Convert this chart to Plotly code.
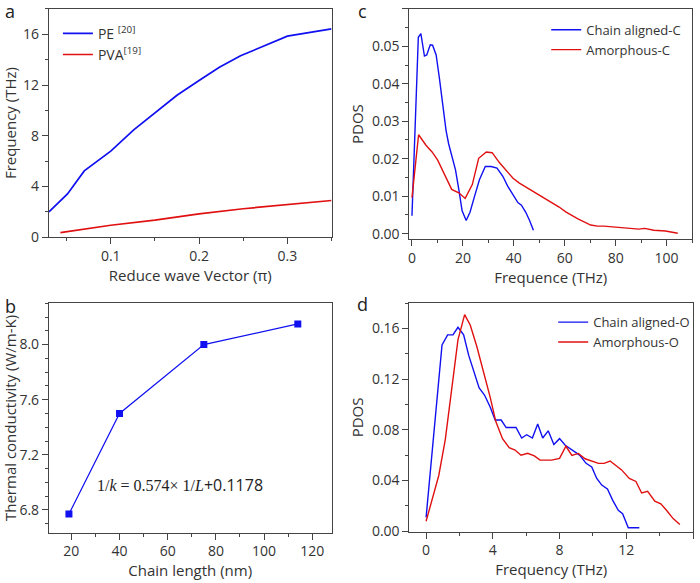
import plotly.graph_objects as go

# ---- Panel a: dispersion ----
pe_q = [0.030, 0.051, 0.070, 0.100, 0.126, 0.149, 0.175, 0.200, 0.223, 0.247, 0.274, 0.300, 0.350]
pe_f = [2.0, 3.42, 5.23, 6.79, 8.47, 9.77, 11.19, 12.36, 13.4, 14.3, 15.08, 15.85, 16.42]
pva_q = [0.043, 0.10, 0.15, 0.20, 0.25, 0.30, 0.35]
pva_f = [0.36, 0.95, 1.35, 1.85, 2.25, 2.6, 2.9]

# ---- Panel b: thermal conductivity vs chain length ----
chain_len = [19, 40, 75, 114]
kappa = [6.77, 7.5, 8.0, 8.15]

# ---- Panel c: carbon PDOS ----
c_al_x = [0, 1.2, 2.5, 3.5, 4.9, 5.8, 7.2, 8.1, 9.5, 10.8, 12.1, 13.4, 14.4, 15.7, 17.1, 18.4, 19.7,
          21.3, 22.8, 24.6, 26.5, 28.8, 31.1, 33.4, 35.7, 37.6, 39.7, 41.6, 43.0, 44.7, 46.2, 47.7]
c_al_y = [0.0048, 0.0284, 0.0524, 0.0534, 0.0474, 0.0477, 0.0504, 0.0503, 0.0477, 0.0414, 0.0345, 0.0275,
          0.024, 0.0209, 0.017, 0.0118, 0.0061, 0.0035, 0.0057, 0.010, 0.0144, 0.0179, 0.0179, 0.0175,
          0.0153, 0.0127, 0.0105, 0.0083, 0.0076, 0.0057, 0.0035, 0.0009]
c_am_x = [0, 2.6, 5.5, 7.9, 10.1, 13.2, 15.6, 18.4, 20.9, 23.7, 26.2, 29.2, 31.5, 34.4, 37.0, 39.7,
          42.2, 44.7, 48.1, 50.6, 54.5, 57.8, 60.4, 65.0, 70.2, 72.8, 75.4, 78.7, 81.3, 85.2, 89.1,
          91.4, 95.0, 99.6, 104.4]
c_am_y = [0.0096, 0.0264, 0.0236, 0.0218, 0.0196, 0.0153, 0.0118, 0.0109, 0.0094, 0.0131, 0.0201,
          0.0218, 0.0216, 0.0189, 0.0168, 0.0148, 0.0135, 0.0125, 0.0111, 0.0100, 0.0085, 0.0071,
          0.0058, 0.0040, 0.0023, 0.0020, 0.0020, 0.0018, 0.0018, 0.0015, 0.0012, 0.0014, 0.0009,
          0.0007, 0.0001]

# ---- Panel d: oxygen PDOS ----
d_al_x = [0, 0.955, 1.29, 1.61, 1.91, 2.25, 2.55, 2.89, 3.18, 3.5, 3.84, 4.14, 4.5, 4.8, 5.39, 5.73,
          6.03, 6.37, 6.69, 6.99, 7.32, 7.66, 8.0, 8.34, 8.74, 9.2, 9.59, 9.93, 10.23, 10.53, 10.87,
          11.19, 11.52, 11.78, 12.12, 12.78]
d_al_y = [0.0108, 0.147, 0.155, 0.155, 0.161, 0.155, 0.139, 0.125, 0.113, 0.1075, 0.098, 0.0877,
          0.0877, 0.0818, 0.0818, 0.0735, 0.0761, 0.0735, 0.0846, 0.0735, 0.0792, 0.0684, 0.073,
          0.0678, 0.0644, 0.060, 0.0535, 0.0507, 0.0415, 0.0363, 0.0332, 0.0242, 0.0164, 0.0137,
          0.0026, 0.0026]
d_am_x = [0, 0.4, 0.76, 1.15, 1.55, 1.91, 2.31, 2.65, 3.04, 3.44, 3.84, 4.18, 4.58, 4.98, 5.33, 5.69,
          6.09, 6.49, 6.83, 7.52, 8.0, 8.38, 8.74, 9.13, 9.53, 10.33, 10.67, 11.03, 11.72, 12.18,
          12.58, 12.92, 13.28, 13.71, 14.07, 14.41, 14.81, 15.21]
d_am_y = [0.0077, 0.0258, 0.0439, 0.0723, 0.112, 0.151, 0.171, 0.1626, 0.1458, 0.1265, 0.1058,
          0.0865, 0.073, 0.0658, 0.064, 0.0599, 0.0614, 0.0594, 0.056, 0.056, 0.0574, 0.067, 0.0597,
          0.0613, 0.0571, 0.0535, 0.0535, 0.0553, 0.0483, 0.0415, 0.0392, 0.0301, 0.0314, 0.0236,
          0.0215, 0.0164, 0.0098, 0.0052]

BLUE = "#1010f0"
RED = "#e01010"
FONT = "Open Sans"
AX = "#444444"

fig = go.Figure()
lw = 1.4
fig.add_trace(go.Scatter(x=pe_q, y=pe_f, mode="lines", line=dict(color=BLUE, width=1.7),
                         name="PE <sup>[20]</sup>", xaxis="x", yaxis="y", legend="legend"))
fig.add_trace(go.Scatter(x=pva_q, y=pva_f, mode="lines", line=dict(color=RED, width=1.7),
                         name="PVA<sup>[19]</sup>", xaxis="x", yaxis="y", legend="legend"))
fig.add_trace(go.Scatter(x=chain_len, y=kappa, mode="lines+markers", line=dict(color=BLUE, width=1.2),
                         marker=dict(symbol="square", size=7, color=BLUE), showlegend=False,
                         xaxis="x2", yaxis="y2"))
fig.add_trace(go.Scatter(x=c_al_x, y=c_al_y, mode="lines", line=dict(color=BLUE, width=lw),
                         name="Chain aligned-C", xaxis="x3", yaxis="y3", legend="legend2"))
fig.add_trace(go.Scatter(x=c_am_x, y=c_am_y, mode="lines", line=dict(color=RED, width=lw),
                         name="Amorphous-C", xaxis="x3", yaxis="y3", legend="legend2"))
fig.add_trace(go.Scatter(x=d_al_x, y=d_al_y, mode="lines", line=dict(color=BLUE, width=lw),
                         name="Chain aligned-O", xaxis="x4", yaxis="y4", legend="legend3"))
fig.add_trace(go.Scatter(x=d_am_x, y=d_am_y, mode="lines", line=dict(color=RED, width=lw),
                         name="Amorphous-O", xaxis="x4", yaxis="y4", legend="legend3"))


def ax(domain, rng, dtick, minor, title, anchor, fmt=None, standoff=4):
    d = dict(domain=domain, range=rng, dtick=dtick, tick0=0, anchor=anchor,
             showline=True, linecolor=AX, linewidth=1, mirror=True,
             ticks="outside", ticklen=6, tickwidth=1, tickcolor=AX,
             minor=dict(dtick=minor, ticks="outside", ticklen=3, tickcolor=AX, tickwidth=1),
             showgrid=False, zeroline=False,
             tickfont=dict(family=FONT, size=14, color="#333333"),
             title=dict(text=title, font=dict(family=FONT, size=15, color="#333333"), standoff=standoff))
    if fmt:
        d["tickformat"] = fmt
    return d


W, H = 700, 583
def fx(a, b):
    return [a / W, b / W]
def fy(top, bot):
    return [1 - bot / H, 1 - top / H]

LEGFONT = dict(family=FONT, size=13, color="#333333")
fig.update_layout(
    width=W, height=H, margin=dict(l=0, r=0, t=0, b=0),
    paper_bgcolor="white", plot_bgcolor="white",
    font=dict(family=FONT, color="#333333"),
    xaxis=ax(fx(48, 331), [0.03, 0.35], 0.1, 0.05, "Reduce wave Vector (π)", "y"),
    yaxis=ax(fy(9, 241), [0, 18], 4, 2, "Frequency (THz)", "x"),
    xaxis2=ax(fx(48, 331), [10.7, 128], 20, 10, "Chain length (nm)", "y2", standoff=6),
    yaxis2=ax(fy(308, 541), [6.635, 8.3], 0.4, 0.1, "Thermal conductivity (W/m-K)", "x2", ".1f"),
    xaxis3=ax(fx(409, 692), [-1, 110], 20, 10, "Frequence (THz)", "y3"),
    yaxis3=ax(fy(9, 243), [-0.0015, 0.06], 0.01, 0.005, "PDOS", "x3", ".2f"),
    xaxis4=ax(fx(409, 693), [-1, 16], 4, 2, "Frequency (THz)", "y4"),
    yaxis4=ax(fy(308, 540), [-0.0005, 0.18], 0.04, 0.02, "PDOS", "x4", ".2f"),
    legend=dict(x=57 / W, y=1 - 18 / H, xanchor="left", yanchor="top", bgcolor="rgba(0,0,0,0)",
                font=dict(family=FONT, size=14, color="#333333"), tracegroupgap=0, itemwidth=30),
    legend2=dict(x=546 / W, y=1 - 15 / H, xanchor="left", yanchor="top", bgcolor="rgba(0,0,0,0)",
                 font=LEGFONT, tracegroupgap=0, itemwidth=30),
    legend3=dict(x=553 / W, y=1 - 312 / H, xanchor="left", yanchor="top", bgcolor="rgba(0,0,0,0)",
                 font=LEGFONT, tracegroupgap=0, itemwidth=30),
)

for lab, x, y in [("a", 9, 11), ("c", 362, 11), ("b", 10, 311), ("d", 362, 309)]:
    fig.add_annotation(text=lab, x=x / W, y=1 - y / H, xref="paper", yref="paper",
                       xanchor="center", yanchor="middle", showarrow=False,
                       font=dict(family=FONT, size=18, color="#222222"))

fig.add_annotation(text='<span style="font-family:Liberation Serif">1/<i>k</i> = 0.574× 1/<i>L</i></span>+0.1178',
                   x=30, y=6.98, xref="x2", yref="y2", xanchor="left", yanchor="middle",
                   showarrow=False, font=dict(family=FONT, size=16, color="#222222"))

fig.write_html("out.html", config={"displayModeBar": False},
               post_script="document.body.style.margin='0';")
